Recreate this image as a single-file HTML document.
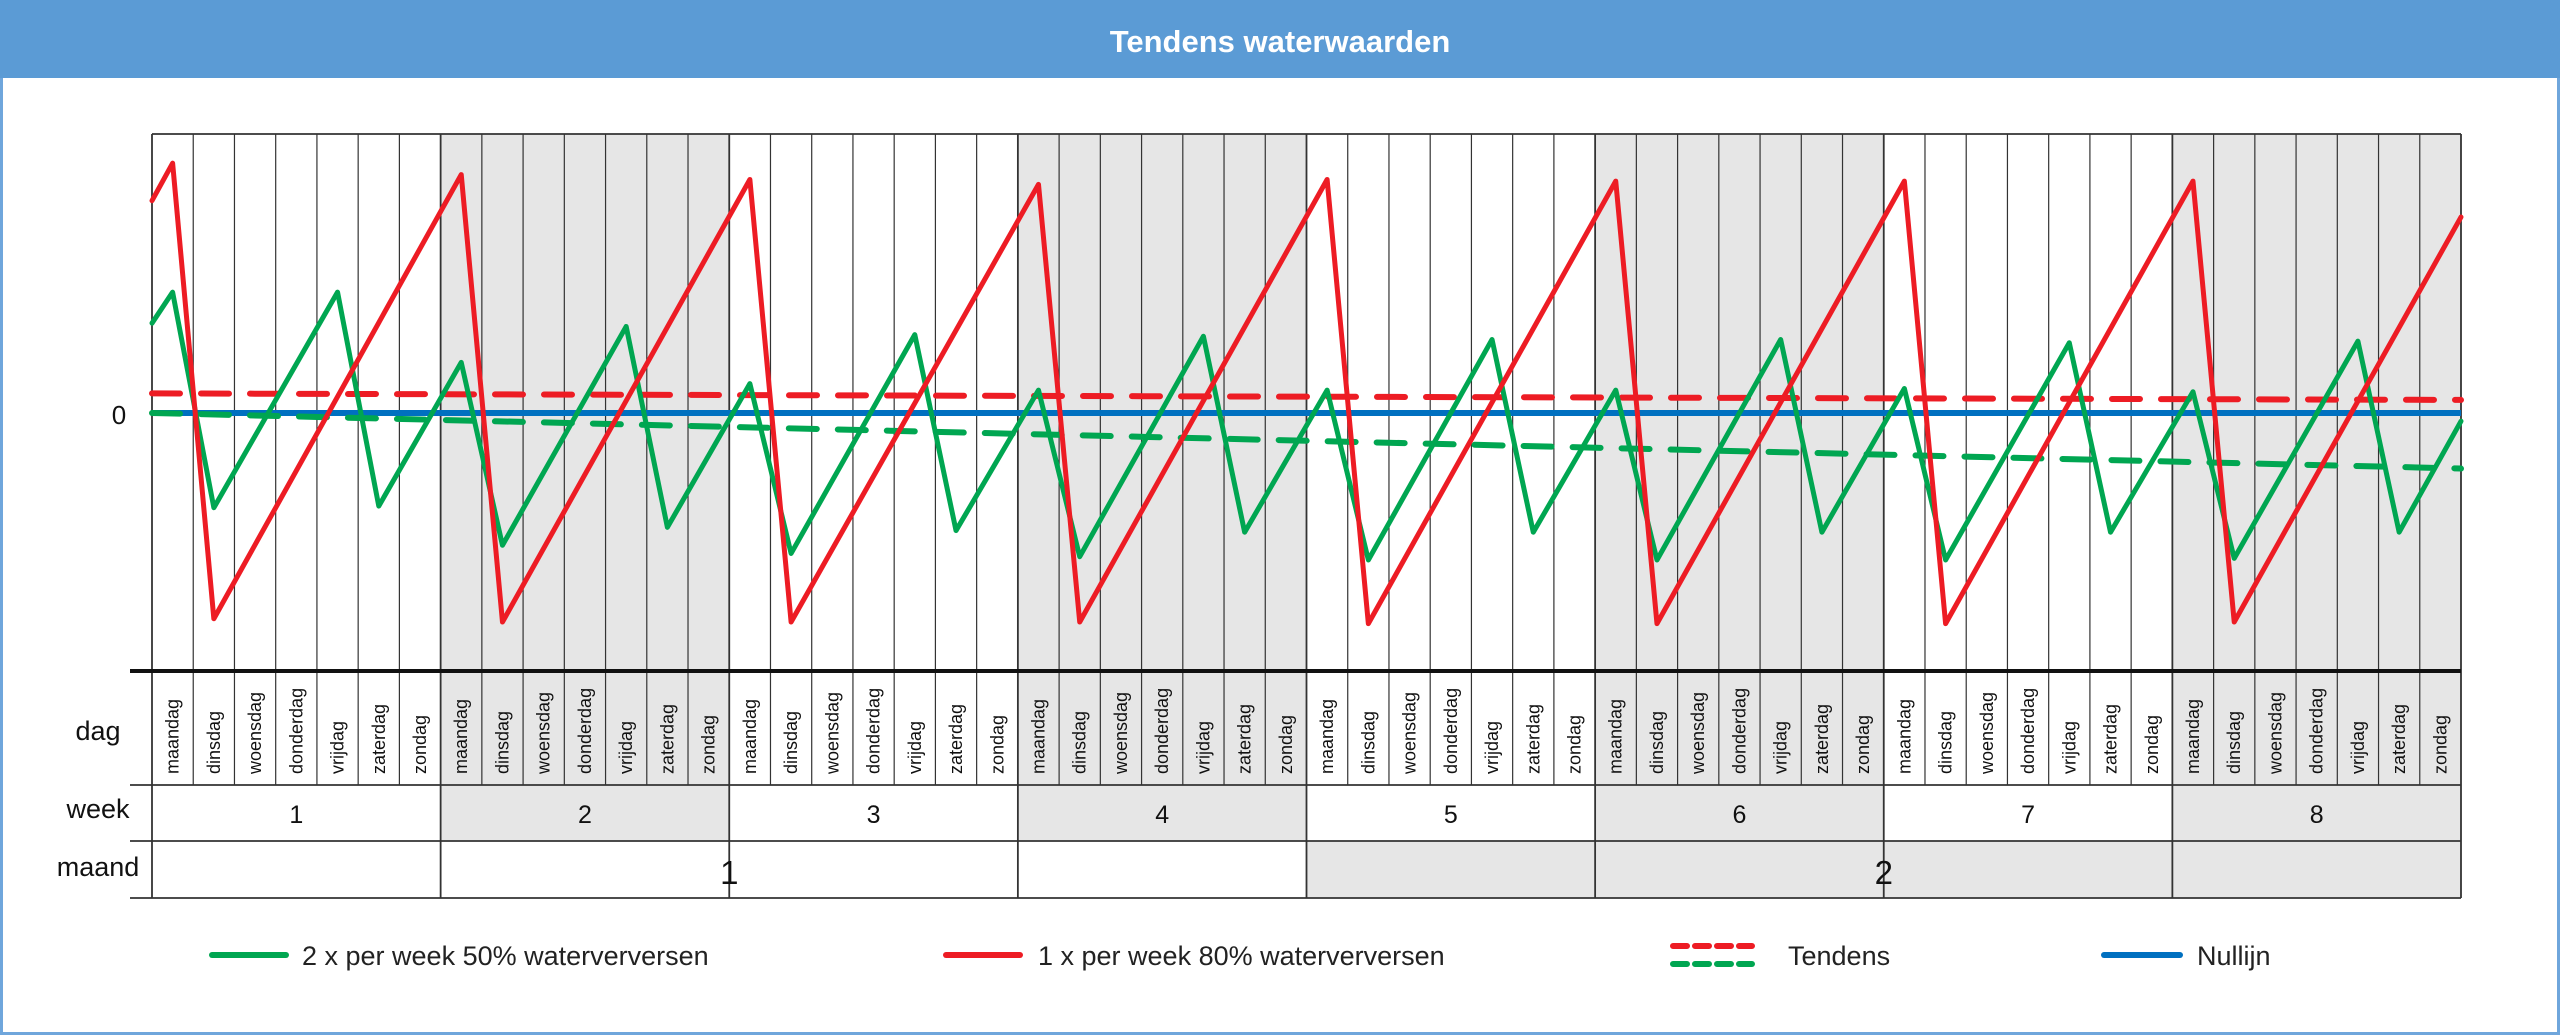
<!DOCTYPE html>
<html><head><meta charset="utf-8"><style>
html,body{margin:0;padding:0;background:#fff;}
svg{display:block;font-family:"Liberation Sans",sans-serif;}
</style></head><body>
<svg id="chart" width="2560" height="1035" viewBox="0 0 2560 1035" xmlns="http://www.w3.org/2000/svg">
<rect x="1.5" y="1.5" width="2557" height="1032" fill="#fff" stroke="#6fa6dc" stroke-width="3"/>
<rect x="0" y="0" width="2560" height="78" fill="#5b9bd5"/>
<text x="1280" y="52" text-anchor="middle" font-size="31" font-weight="bold" fill="#fff">Tendens waterwaarden</text>
<g id="bg"></g><g id="grid"></g><g id="series"></g><g id="labels"></g>
<g>
<line x1="212" y1="955" x2="286" y2="955" stroke="#00a651" stroke-width="6" stroke-linecap="round"/>
<text x="302" y="965" font-size="27" fill="#222">2 x per week 50% waterverversen</text>
<line x1="946" y1="955" x2="1020" y2="955" stroke="#ed1c24" stroke-width="6" stroke-linecap="round"/>
<text x="1038" y="965" font-size="27" fill="#222">1 x per week 80% waterverversen</text>
<line x1="1673" y1="946" x2="1752" y2="946" stroke="#ed1c24" stroke-width="6" stroke-dasharray="14,8" stroke-linecap="round"/>
<line x1="1673" y1="964" x2="1752" y2="964" stroke="#00a651" stroke-width="6" stroke-dasharray="14,8" stroke-linecap="round"/>
<text x="1788" y="965" font-size="27" fill="#222">Tendens</text>
<line x1="2104" y1="955" x2="2180" y2="955" stroke="#0070c0" stroke-width="6" stroke-linecap="round"/>
<text x="2197" y="965" font-size="27" fill="#222">Nullijn</text>
</g>
</svg>
<script>
const dayNames = ["maandag","dinsdag","woensdag","donderdag","vrijdag","zaterdag","zondag"];
const weeks = [1,2,3,4,5,6,7,8];
const months = [1,2];
const redX = [0,0.5,1.5,7.5,8.5,14.5,15.5,21.5,22.5,28.5,29.5,35.5,36.5,42.5,43.5,49.5,50.5,56];
const redY = [130,153,-126,146,-128,143,-128,140,-128,143,-129,142,-129,142,-129,142,-128,120];
const greenX = [0,0.5,1.5,4.5,5.5,7.5,8.5,11.5,12.5,14.5,15.5,18.5,19.5,21.5,22.5,25.5,26.5,28.5,29.5,32.5,33.5,35.5,36.5,39.5,40.5,42.5,43.5,46.5,47.5,49.5,50.5,53.5,54.5,56];
const greenY = [55,74,-58,74,-57,31,-81,53,-70,18,-86,48,-72,14,-88,47,-73,14,-90,45,-73,14,-90,45,-73,15,-90,43,-73,13,-89,44,-73,-5];
const trendRed = [12,8];
const trendGreen = [0,-34];
const nullLine = [0,0];

const NS="http://www.w3.org/2000/svg";
const L=152,R=2461,T=134,B=671,Z=413,K=1.633,ND=56;
const cw=(R-L)/ND;
const xs=d=>L+d*cw, ys=v=>Z-v*K;
function mk(tag,attrs,parent){const e=document.createElementNS(NS,tag);for(const k in attrs)e.setAttribute(k,attrs[k]);parent.appendChild(e);return e;}
const bg=document.getElementById('bg'),grid=document.getElementById('grid'),ser=document.getElementById('series'),lab=document.getElementById('labels');
// week shading
weeks.forEach((w,i)=>{if(i%2===1){
 const r=mk('rect',{x:xs(i*7),y:T,width:7*cw,height:841-T,fill:'#e6e6e6'},bg);
 
 
}});
const mr=mk('rect',{x:xs(28),y:841,width:28*cw,height:57,fill:'#e6e6e6'},bg);


// grid
for(let d=0;d<=ND;d++){
 const g=mk('line',{x1:xs(d),y1:T,x2:xs(d),y2:(d%7===0)?898:785,stroke:'#333','stroke-width':(d%7===0)?1.8:1.2},grid);
 
 
}
[[T,L],[785,130],[841,130],[898,130]].forEach(([y,x0])=>{
 const h=mk('line',{x1:x0,y1:y,x2:R,y2:y,stroke:'#333','stroke-width':1.8},grid);
 
 
});
const ax=mk('line',{x1:130,y1:B,x2:R,y2:B,stroke:'#111','stroke-width':4},grid);


// series
function poly(xa,ya,color,name,extra){
 const p=mk('polyline',Object.assign({points:xa.map((x,i)=>xs(x)+','+ys(ya[i])).join(' '),fill:'none',stroke:color,'stroke-width':5,'stroke-linejoin':'round','stroke-linecap':'round'},extra||{}),ser);
 
 
}
poly([0,56],nullLine,'#0070c0','nullijn',{'stroke-width':6,'stroke-linecap':'butt'});
poly([0,56],trendRed,'#ed1c24','tendens-red',{'stroke-dasharray':'28,21','stroke-width':6});
poly([0,56],trendGreen,'#00a651','tendens-green',{'stroke-dasharray':'28,21','stroke-width':6});
poly(greenX,greenY,'#00a651','series-2x-50pct');
poly(redX,redY,'#ed1c24','series-1x-80pct');
// labels
function txt(s,x,y,size,name,extra){const t=mk('text',Object.assign({x:x,y:y,'font-size':size,fill:'#111'},extra||{}),lab);t.textContent=s;
 
 return t;}
txt('0',119,424,26,'y-zero-label',{'text-anchor':'middle'});
txt('dag',98,740,27,'row-label-dag',{'text-anchor':'middle'});
txt('week',98,818,27,'row-label-week',{'text-anchor':'middle'});
txt('maand',98,876,27,'row-label-maand',{'text-anchor':'middle'});
for(let d=0;d<ND;d++){
 const cx=xs(d+0.5)+6,cy=774;
 txt(dayNames[d%7],cx,cy,18,'day-label',{transform:'rotate(-90 '+cx+' '+cy+')'});
}
weeks.forEach((w,i)=>txt(String(w),xs(i*7+3.5),823,25,'week-label',{'text-anchor':'middle'}));
months.forEach((m,i)=>txt(String(m),xs(i*28+14),884,33,'month-label',{'text-anchor':'middle'}));
</script>
</body></html>
